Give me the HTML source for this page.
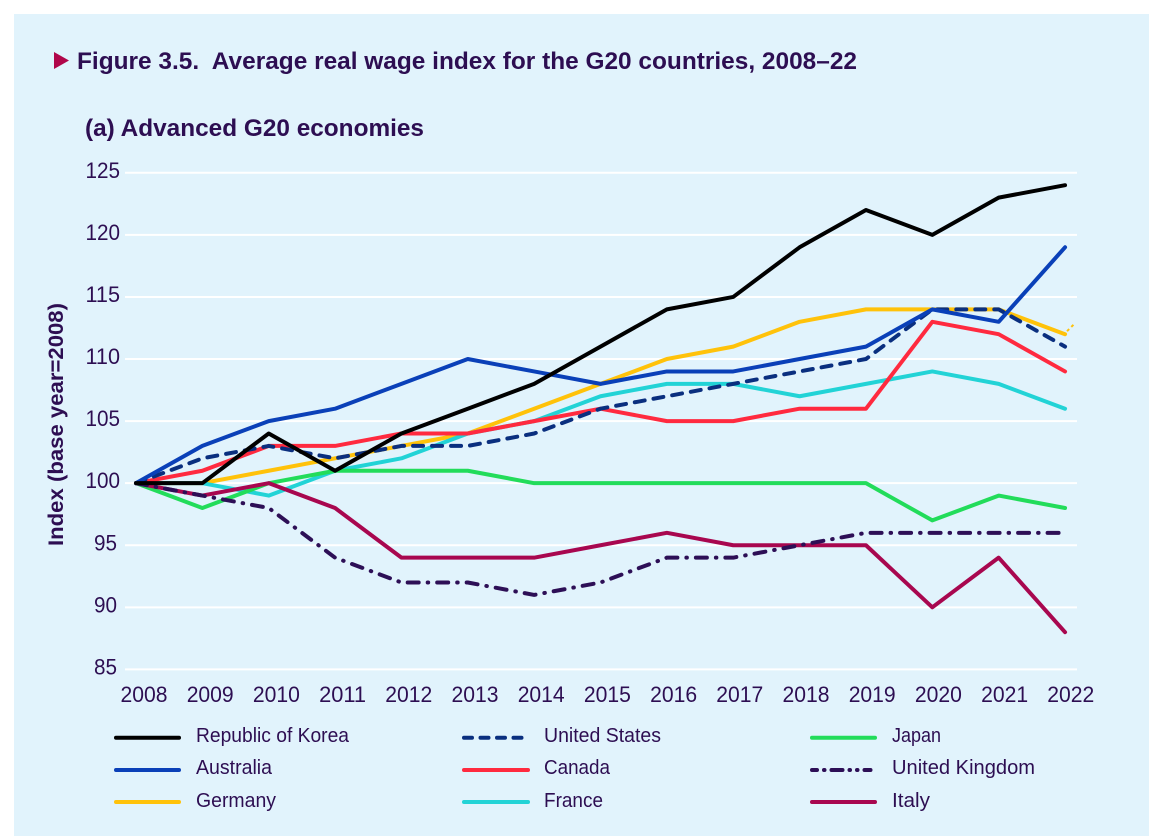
<!DOCTYPE html>
<html lang="en">
<head>
<meta charset="utf-8">
<title>Figure 3.5. Average real wage index for the G20 countries, 2008–22</title>
<style>
  html, body { margin: 0; padding: 0; background: #ffffff; }
  body { width: 1162px; height: 836px; overflow: hidden; }
  svg { display: block; font-family: "Liberation Sans", sans-serif; }
  text { fill: #2d0e52; }
</style>
</head>
<body>
<svg id="chart" xmlns="http://www.w3.org/2000/svg" width="1162" height="836" viewBox="0 0 1162 836">
  <rect x="14" y="14" width="1135" height="822" fill="#e1f3fc"/>
  <polygon points="54,52 69,60.5 54,69" fill="#b0064a"/>
  <text x="77" y="69" font-size="24.5" font-weight="700" textLength="780" lengthAdjust="spacingAndGlyphs" xml:space="preserve">Figure 3.5.  Average real wage index for the G20 countries, 2008–22</text>
  <text x="85" y="136" font-size="24.5" font-weight="700" textLength="339" lengthAdjust="spacingAndGlyphs">(a) Advanced G20 economies</text>
  <text transform="translate(63,546) rotate(-90)" font-size="21.5" font-weight="700" textLength="243" lengthAdjust="spacingAndGlyphs">Index (base year=2008)</text>
  <g id="grid"></g>
  <g id="yticks"></g>
  <g id="xticks"></g>
  <g id="series"></g>

  <g font-size="20">
    <g>
      <line x1="116" x2="179" y1="737.7" y2="737.7" stroke="#000000" stroke-width="4" stroke-linecap="round"/>
      <text x="196" y="742" textLength="153" lengthAdjust="spacingAndGlyphs">Republic of Korea</text>
    </g>
    <g>
      <line x1="464" x2="528" y1="737.7" y2="737.7" stroke="#0a2f7f" stroke-width="4" stroke-linecap="round" stroke-dasharray="8 8.5"/>
      <text x="544" y="742" textLength="117" lengthAdjust="spacingAndGlyphs">United States</text>
    </g>
    <g>
      <line x1="812" x2="875" y1="737.7" y2="737.7" stroke="#22dc5a" stroke-width="4" stroke-linecap="round"/>
      <text x="892" y="742" textLength="49" lengthAdjust="spacingAndGlyphs">Japan</text>
    </g>
    <g>
      <line x1="116" x2="179" y1="770" y2="770" stroke="#0a40b8" stroke-width="4" stroke-linecap="round"/>
      <text x="196" y="774" textLength="76" lengthAdjust="spacingAndGlyphs">Australia</text>
    </g>
    <g>
      <line x1="464" x2="528" y1="770" y2="770" stroke="#ff2a3f" stroke-width="4" stroke-linecap="round"/>
      <text x="544" y="774" textLength="66" lengthAdjust="spacingAndGlyphs">Canada</text>
    </g>
    <g>
      <line x1="812" x2="875" y1="770" y2="770" stroke="#2d0f56" stroke-width="4" stroke-linecap="round" stroke-dasharray="5 7 0.5 7 11 7 0.5 7 0.5 7 6 7"/>
      <text x="892" y="774" textLength="143" lengthAdjust="spacingAndGlyphs">United Kingdom</text>
    </g>
    <g>
      <line x1="116" x2="179" y1="802" y2="802" stroke="#ffc20a" stroke-width="4" stroke-linecap="round"/>
      <text x="196" y="807" textLength="80" lengthAdjust="spacingAndGlyphs">Germany</text>
    </g>
    <g>
      <line x1="464" x2="528" y1="802" y2="802" stroke="#22d3d6" stroke-width="4" stroke-linecap="round"/>
      <text x="544" y="807" textLength="59" lengthAdjust="spacingAndGlyphs">France</text>
    </g>
    <g>
      <line x1="812" x2="875" y1="802" y2="802" stroke="#a8074f" stroke-width="4" stroke-linecap="round"/>
      <text x="892" y="807" textLength="38" lengthAdjust="spacingAndGlyphs">Italy</text>
    </g>
  </g>
</svg>
<script>
const years = [2008,2009,2010,2011,2012,2013,2014,2015,2016,2017,2018,2019,2020,2021,2022];
const yTickValues = [85,90,95,100,105,110,115,120,125];

const germany = [100,100,101,102,103,104,106,108,110,111,113,114,114,114,112];
const france = [100,100,99,101,102,104,105,107,108,108,107,108,109,108,106];
const japan = [100,98,100,101,101,101,100,100,100,100,100,100,97,99,98];
const italy = [100,99,100,98,94,94,94,95,96,95,95,95,90,94,88];
const unitedKingdom = [100,99,98,94,92,92,91,92,94,94,95,96,96,96,96];
const canada = [100,101,103,103,104,104,105,106,105,105,106,106,113,112,109];
const unitedStates = [100,102,103,102,103,103,104,106,107,108,109,110,114,114,111];
const australia = [100,103,105,106,108,110,109,108,109,109,110,111,114,113,119];
const korea = [100,100,104,101,104,106,108,111,114,115,119,122,120,123,124];

const NS = 'http://www.w3.org/2000/svg';
const xOf = function (i) { return 136 + i * 66.36; };
const xLabelOf = function (i) { return 144 + i * 66.2; };
const yOf = function (v) { return 172.8 + (125 - v) * 12.415; };

function make(tag, attrs, parent) {
  const el = document.createElementNS(NS, tag);
  Object.keys(attrs).forEach(function (k) { el.setAttribute(k, attrs[k]); });
  parent.appendChild(el);
  return el;
}

const gridGroup = document.getElementById('grid');
const yTickGroup = document.getElementById('yticks');
const xTickGroup = document.getElementById('xticks');
const seriesGroup = document.getElementById('series');

yTickValues.forEach(function (v) {
  const line = make('line', { x1: 125, x2: 1077, y1: yOf(v), y2: yOf(v), stroke: '#ffffff', 'stroke-width': 2 }, gridGroup);
  
  
  const label = make('text', { x: v >= 100 ? 120 : 117, y: yOf(v) + 5, 'font-size': 22.5, 'text-anchor': 'end', textLength: v >= 100 ? 34.5 : 23, lengthAdjust: 'spacingAndGlyphs' }, yTickGroup);
  label.textContent = String(v);
  
  
});

years.forEach(function (year, i) {
  const label = make('text', { x: xLabelOf(i), y: 702, 'font-size': 22.5, 'text-anchor': 'middle', textLength: 47, lengthAdjust: 'spacingAndGlyphs' }, xTickGroup);
  label.textContent = String(year);
  
  
});

function drawSeries(name, values, color, dash) {
  const d = values.map(function (v, i) {
    return (i ? 'L' : 'M') + xOf(i).toFixed(2) + ' ' + yOf(v).toFixed(2);
  }).join(' ');
  const path = make('path', { d: d, fill: 'none', stroke: color, 'stroke-width': 4, 'stroke-linejoin': 'round', 'stroke-linecap': 'round' }, seriesGroup);
  if (dash) path.setAttribute('stroke-dasharray', dash);
  
  
}

drawSeries('germany', germany, '#ffc20a');
const lastGermany = germany[germany.length - 1];
const germanyTail = make('path', {
  d: 'M' + (xOf(14) + 2) + ' ' + (yOf(lastGermany) - 3) + ' L' + (xOf(14) + 8.5) + ' ' + (yOf(lastGermany) - 9.5),
  fill: 'none', stroke: '#ffc20a', 'stroke-width': 2, 'stroke-dasharray': '3 3'
}, seriesGroup);


drawSeries('france', france, '#22d3d6');
drawSeries('japan', japan, '#22dc5a');
drawSeries('italy', italy, '#a8074f');
drawSeries('united-kingdom', unitedKingdom, '#2d0f56', '11 9 0.5 9');
drawSeries('canada', canada, '#ff2a3f');
drawSeries('united-states', unitedStates, '#0a2f7f', '10 9');
drawSeries('australia', australia, '#0a40b8');
drawSeries('korea', korea, '#000000');
</script>
</body>
</html>
